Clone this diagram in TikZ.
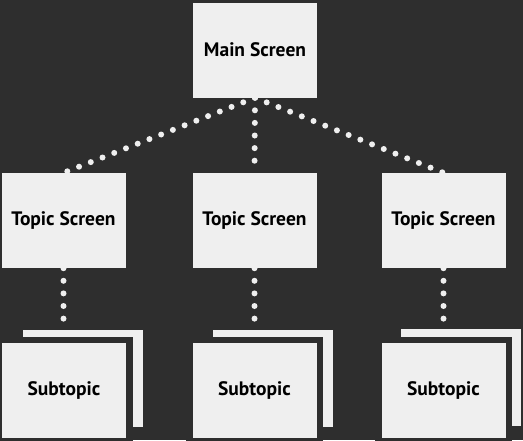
\documentclass[tikz,border=0pt]{standalone}
\usepackage{fontspec}
\setmainfont{PT Sans}
\usetikzlibrary{positioning}
\definecolor{bgdark}{HTML}{2E2E2E}
\definecolor{paper}{HTML}{EFEFEF}
\tikzset{
    chart/.style={font=\fontsize{19.5}{22}\selectfont\bfseries, x=1pt, y=1pt},
    screen box/.style={fill=paper, align=center, inner sep=0pt,
        minimum width=124pt, minimum height=95pt},
    sub box/.style={screen box, preaction={draw=bgdark, line width=13pt}},
    back sheet/.style={fill=paper, inner sep=0pt,
        minimum width=120pt, minimum height=97pt},
    dot link/.style={draw=paper, line width=6pt, line cap=round,
        dash pattern=on 0pt off 12.6pt},
}

\begin{document}
\begin{tikzpicture}[chart]
            \useasboundingbox (0,0) rectangle (523,-440);
            \fill[bgdark] (0,0) rectangle (523,-440);
            \node[screen box] (main) at (255,-50) {Main Screen};
            \node[screen box] (topicA) at (63.5,-220.5) {Topic Screen};
            \node[screen box] (topicB) at (254.5,-220.5) {Topic Screen};
            \node[screen box] (topicC) at (443.5,-220.5) {Topic Screen};
            % stacked sheets behind each subtopic
            \node[back sheet] (backA) at (82.5,-378.5) {};
            \node[back sheet] (backB) at (272.5,-378.5) {};
            \node[back sheet] (backC) at (461,-377.5) {};
            \node[sub box] (subA) at (64,-390.5) {Subtopic};
            \node[sub box] (subB) at (254.5,-390.5) {Subtopic};
            \node[sub box] (subC) at (443.5,-390.5) {Subtopic};
            \draw[dot link] (main.south) -- (topicA.north);
            \draw[dot link] (main.south) -- (topicB.north);
            \draw[dot link] (main.south) -- (topicC.north);
            \draw[dot link] (topicA.south) -- (topicA.south |- backA.north);
            \draw[dot link] (topicB.south) -- (topicB.south |- backB.north);
            \draw[dot link] (topicC.south) -- (topicC.south |- backC.north);
        \end{tikzpicture}
\end{document}
